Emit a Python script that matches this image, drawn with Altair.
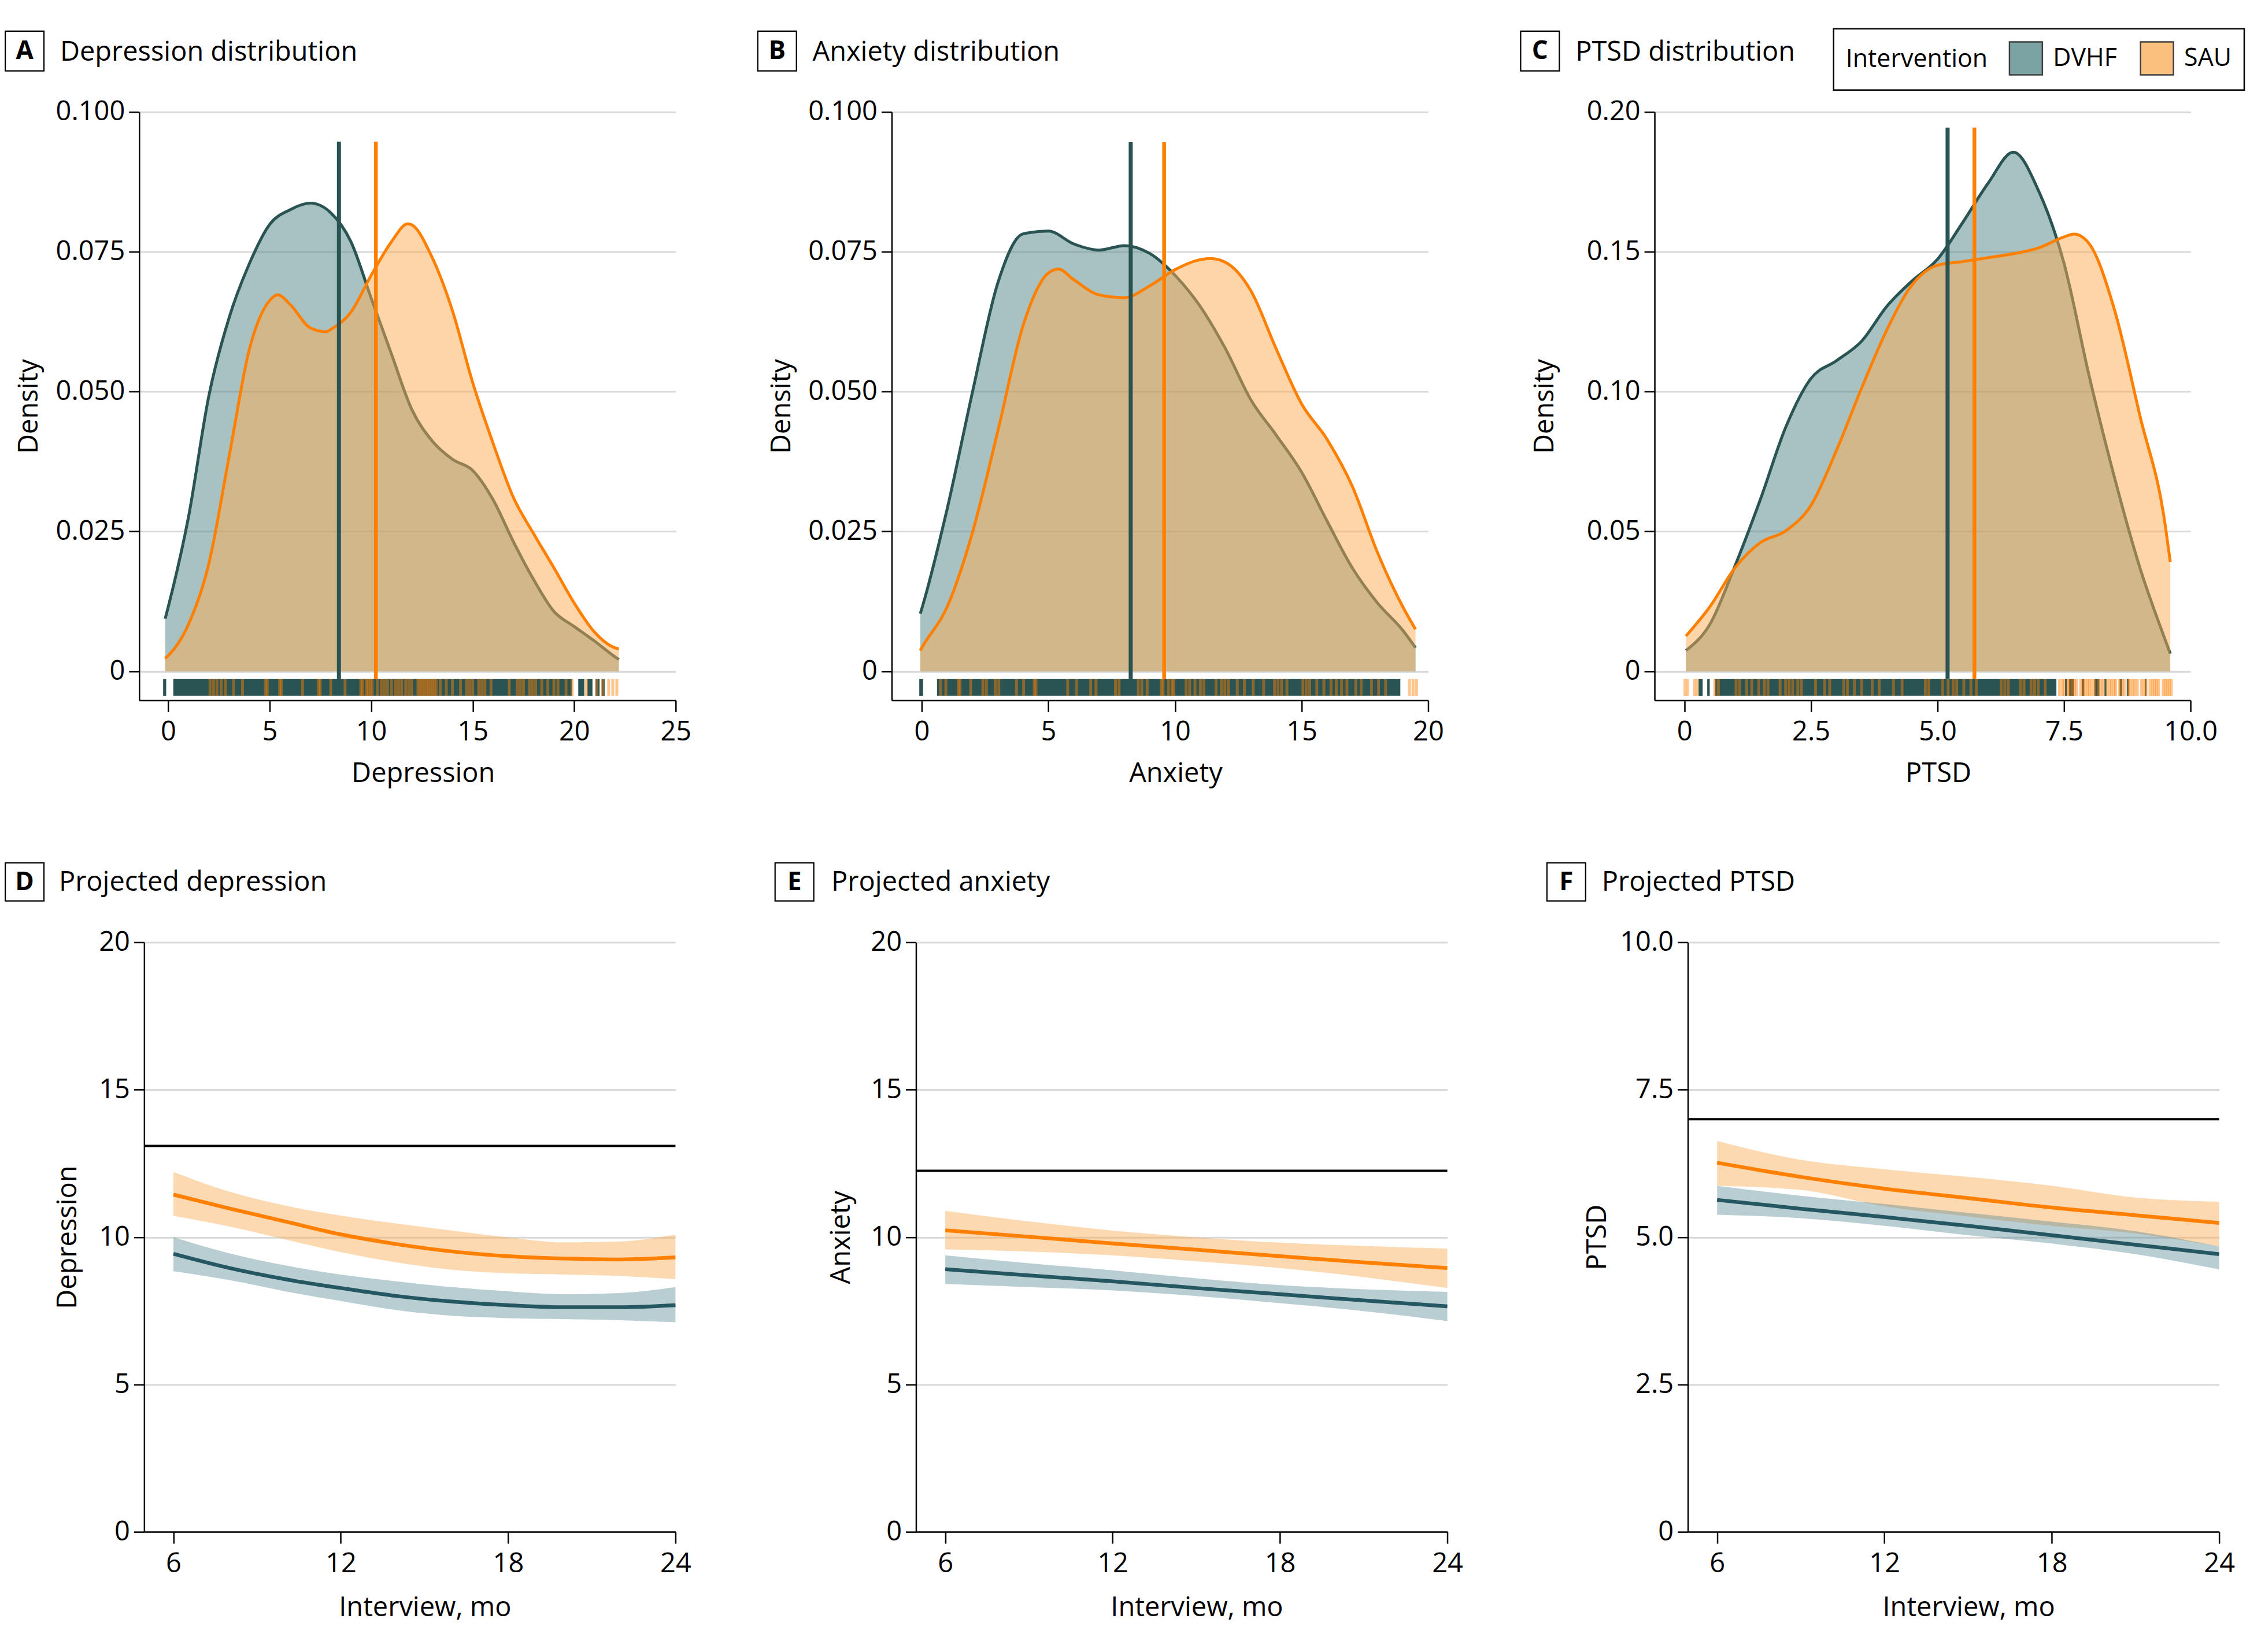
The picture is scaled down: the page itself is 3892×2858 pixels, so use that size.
import altair as alt
import pandas as pd

FONT = "Open Sans"
TEAL = "#2a5453"
ORANGE = "#ff7f00"
TEAL_FILL = "#518585"
ORANGE_FILL = "#fbab53"
BAND_TEAL = "#4f8592"
BAND_ORANGE = "#fbab53"
LINE_TEAL = "#245761"
GRID = "#d9d9d9"
GROUPS = ["DVHF", "SAU"]

# ---------------- Panel A: depression density ----------------
dep_x_dvhf = [-0.15, 0, 1, 2, 3, 4, 5, 6, 7, 8, 9, 10, 11, 12, 13, 14, 15, 16, 17, 18, 19, 20, 21, 22, 22.2]
dep_d_dvhf = [0.0094, 0.0115, 0.0276, 0.0492, 0.0632, 0.0729, 0.0799, 0.0825, 0.0837, 0.0820, 0.0768, 0.0667,
              0.0567, 0.0468, 0.0412, 0.0379, 0.0359, 0.0307, 0.0232, 0.0164, 0.0107, 0.0080, 0.0054, 0.0026, 0.0021]
dep_x_sau = [-0.15, 0, 1, 2, 3, 4, 5, 5.4, 6, 7, 7.8, 8, 9, 10, 11, 11.8, 12, 13, 14, 15, 16, 17, 18, 19, 20, 21, 22, 22.2]
dep_d_sau = [0.0023, 0.0028, 0.0084, 0.0192, 0.0384, 0.0576, 0.0663, 0.0673, 0.0656, 0.0614, 0.0607, 0.0611, 0.0642,
             0.0708, 0.0768, 0.0800, 0.0798, 0.0740, 0.0645, 0.0516, 0.0408, 0.0311, 0.0246, 0.0185, 0.0122, 0.0070,
             0.0042, 0.0040]
dep_means = [8.41, 10.23]
dep_mean_top = [0.0947, 0.0947]
dep_rug_dvhf_lo = [-0.25, 0.25, 20.2, 20.65, 21.05, 21.35]
dep_rug_dvhf_hi = [-0.1, 19.9, 20.5, 20.9, 21.25, 21.5]
dep_rug_sau = [2.06, 2.23, 2.4, 2.61, 2.82, 3.22, 3.66, 4.79, 4.88, 5.49, 5.57, 6.62, 7.4, 7.49, 8.01, 8.71, 9.49,
               9.58, 9.76, 9.85, 9.95, 10.05, 10.3, 10.5, 10.65, 10.8, 11.0, 11.2, 11.35, 11.5, 11.7, 11.85, 12.0,
               12.3, 12.4, 12.5, 12.6, 12.7, 12.8, 12.9, 13.0, 13.1, 13.2, 13.4, 13.7, 14.0, 14.4, 14.7, 14.85, 15.0,
               15.3, 15.45, 15.6, 15.9, 16.8, 17.2, 17.35, 17.5, 17.8, 17.95, 18.1, 18.4, 18.7, 19.0, 19.2, 19.6,
               19.9, 20.6, 21.1, 21.4, 21.7, 21.9, 22.1]

# ---------------- Panel B: anxiety density ----------------
anx_x_dvhf = [-0.06, 0, 1, 2, 3, 4, 5, 6, 7, 8, 9, 10, 11, 12, 13, 14, 15, 16, 17, 18, 19, 19.5]
anx_d_dvhf = [0.0103, 0.0112, 0.0290, 0.0499, 0.0694, 0.0782, 0.0787, 0.0764, 0.0753, 0.0761, 0.0747, 0.0708,
              0.0652, 0.0576, 0.0485, 0.0422, 0.0356, 0.0269, 0.0185, 0.0122, 0.0073, 0.0042]
anx_x_sau = [-0.06, 0, 1, 2, 3, 4, 5, 5.4, 6, 7, 8, 9, 10, 11, 11.4, 12, 13, 14, 15, 16, 17, 18, 19, 19.5]
anx_d_sau = [0.0037, 0.0042, 0.0115, 0.0248, 0.0429, 0.0618, 0.0712, 0.0719, 0.0700, 0.0673, 0.0668, 0.0689,
             0.0718, 0.0736, 0.0738, 0.0731, 0.0680, 0.0576, 0.0478, 0.0415, 0.0331, 0.0212, 0.0115, 0.0075]
anx_means = [8.25, 9.57]
anx_mean_top = [0.0946, 0.0946]
anx_rug_dvhf_lo = [-0.1, 0.6]
anx_rug_dvhf_hi = [0.05, 18.9]
anx_rug_sau = [0.74, 0.95, 1.44, 1.51, 1.93, 2.41, 2.55, 2.9, 3.04, 3.74, 4.02, 4.44, 4.51, 5.76, 6.11, 6.67, 6.88,
               7.65, 7.79, 8.55, 8.69, 8.9, 9.46, 9.53, 9.74, 9.88, 9.95, 10.44, 10.58, 10.79, 11.0, 11.14, 11.62,
               11.83, 11.97, 12.11, 12.46, 12.74, 13.09, 13.5, 13.93, 14.07, 14.21, 14.42, 15.05, 15.18, 15.32, 15.6,
               15.88, 16.16, 16.37, 16.58, 16.79, 17.14, 17.35, 17.76, 18.04, 18.32, 19.26, 19.4, 19.54]

# ---------------- Panel C: PTSD density ----------------
ptsd_x_dvhf = [0.03, 0.5, 1.0, 1.5, 2.0, 2.5, 3.0, 3.5, 4.0, 4.5, 5.0, 5.5, 6.0, 6.5, 7.0, 7.5, 8.0, 8.5, 9.0, 9.5, 9.6]
ptsd_d_dvhf = [0.0074, 0.0167, 0.0377, 0.0614, 0.0872, 0.1047, 0.1110, 0.1180, 0.1305, 0.1396, 0.1473, 0.1605,
               0.1745, 0.1856, 0.1717, 0.1459, 0.1054, 0.0691, 0.0370, 0.0112, 0.0063]
ptsd_x_sau = [0.03, 0.5, 1.0, 1.5, 2.0, 2.5, 3.0, 3.5, 4.0, 4.5, 5.0, 5.5, 6.0, 6.5, 7.0, 7.5, 7.7, 8.0, 8.5, 9.0,
              9.5, 9.6]
ptsd_d_sau = [0.0126, 0.0230, 0.0370, 0.0460, 0.0502, 0.0593, 0.0788, 0.1012, 0.1221, 0.1382, 0.1452, 0.1465,
              0.1479, 0.1493, 0.1514, 0.1553, 0.1563, 0.1528, 0.1291, 0.0914, 0.0523, 0.0391]
ptsd_means = [5.20, 5.73]
ptsd_mean_top = [0.1944, 0.1944]
ptsd_rug_dvhf_lo = [0.28, 0.45, 0.6, 7.52, 7.6, 7.85, 8.1, 8.3, 8.6, 8.74, 9.1]
ptsd_rug_dvhf_hi = [0.36, 0.5, 7.35, 7.56, 7.7, 7.9, 8.2, 8.34, 8.65, 8.78, 9.13]
ptsd_rug_sau = [0.01, 0.06, 0.2, 0.25, 0.6, 0.67, 1.02, 1.09, 1.23, 1.33, 1.47, 1.58, 1.65, 1.89, 2.0, 2.07, 2.14,
                2.24, 2.31, 2.59, 2.77, 2.87, 3.15, 3.22, 3.36, 3.5, 3.71, 3.85, 4.13, 4.3, 4.76, 4.83, 5.1, 5.21,
                5.31, 5.38, 5.52, 5.66, 5.77, 6.26, 6.33, 6.4, 6.64, 6.71, 6.85, 6.92, 6.99, 7.13, 7.41, 7.47, 7.5,
                7.58, 7.6, 7.66, 7.71, 7.75, 7.83, 7.88, 7.92, 7.97, 8.0, 8.05, 8.1, 8.18, 8.23, 8.27, 8.35, 8.4,
                8.44, 8.49, 8.52, 8.6, 8.65, 8.69, 8.78, 8.81, 8.86, 8.9, 8.95, 9.03, 9.08, 9.12, 9.2, 9.25, 9.29,
                9.33, 9.37, 9.46, 9.5, 9.54, 9.58, 9.62]

# ---------------- Panel D: projected depression ----------------
d_months = [6, 8, 10, 12, 14, 16, 18, 20, 22, 24]
d_sau = [11.44, 10.97, 10.53, 10.09, 9.76, 9.51, 9.35, 9.27, 9.24, 9.31]
d_sau_hi = [12.21, 11.54, 11.07, 10.73, 10.46, 10.22, 9.99, 9.82, 9.85, 10.08]
d_sau_lo = [10.72, 10.36, 9.92, 9.49, 9.14, 8.89, 8.77, 8.73, 8.68, 8.57]
d_dv = [9.43, 8.95, 8.57, 8.27, 8.0, 7.81, 7.69, 7.62, 7.62, 7.69]
d_dv_hi = [10.0, 9.45, 9.04, 8.73, 8.5, 8.3, 8.16, 8.06, 8.1, 8.3]
d_dv_lo = [8.84, 8.54, 8.16, 7.83, 7.52, 7.33, 7.25, 7.22, 7.18, 7.11]
d_ref = [13.09]

# ---------------- Panel E: projected anxiety ----------------
e_months = [6, 9, 12, 15, 18, 21, 24]
e_sau = [10.23, 10.01, 9.78, 9.57, 9.35, 9.14, 8.95]
e_sau_hi = [10.89, 10.53, 10.22, 9.99, 9.81, 9.7, 9.61]
e_sau_lo = [9.58, 9.51, 9.38, 9.18, 8.95, 8.64, 8.27]
e_dv = [8.91, 8.7, 8.5, 8.27, 8.06, 7.85, 7.65]
e_dv_hi = [9.38, 9.11, 8.87, 8.6, 8.37, 8.23, 8.14]
e_dv_lo = [8.41, 8.3, 8.19, 8.0, 7.76, 7.49, 7.15]
e_ref = [12.25]

# ---------------- Panel F: projected PTSD ----------------
f_months = [6, 9, 12, 15, 18, 21, 24]
f_sau = [6.26, 6.02, 5.82, 5.66, 5.5, 5.37, 5.24]
f_sau_hi = [6.63, 6.31, 6.15, 6.02, 5.87, 5.67, 5.6]
f_sau_lo = [5.87, 5.8, 5.52, 5.35, 5.19, 5.06, 4.84]
f_dv = [5.63, 5.48, 5.34, 5.19, 5.03, 4.87, 4.71]
f_dv_hi = [5.87, 5.7, 5.56, 5.41, 5.26, 5.1, 4.84]
f_dv_lo = [5.38, 5.32, 5.19, 5.03, 4.89, 4.71, 4.45]
f_ref = [7.0]

FS = 47

color_scale = alt.Scale(domain=GROUPS, range=[TEAL_FILL, ORANGE_FILL])

LEGEND = alt.Legend(
    title="Intervention", orient="none", legendX=2934, legendY=-144, direction="horizontal",
    titleOrient="left", titleAnchor="middle", titleBaseline="middle", titleLimit=600, labelLimit=300,
    symbolType="square", symbolSize=3249, symbolStrokeColor="black", symbolStrokeWidth=2.5,
    symbolOpacity=0.75, labelFontSize=43, titleFontSize=43, titleFontWeight="normal",
    labelFont=FONT, titleFont=FONT, labelColor="black", titleColor="black",
    strokeColor="black", padding=21, labelOffset=17, columnPadding=35, titlePadding=36)


def label_layers(letter, title, box, text_x, text_y):
    bx0, bx1, by0, by1 = box
    rect = alt.Chart(pd.DataFrame({"t": [letter]})).mark_rect(
        fill="white", stroke="black", strokeWidth=2.2
    ).encode(x=alt.value(bx0), x2=alt.value(bx1), y=alt.value(by0), y2=alt.value(by1))
    let = alt.Chart(pd.DataFrame({"t": [letter]})).mark_text(
        font=FONT, fontSize=44, fontWeight="bold", align="center", baseline="middle", color="black"
    ).encode(text="t:N", x=alt.value((bx0 + bx1) / 2), y=alt.value((by0 + by1) / 2 + 1))
    ttl = alt.Chart(pd.DataFrame({"t": [title]})).mark_text(
        font=FONT, fontSize=FS, align="left", baseline="middle", color="black"
    ).encode(text="t:N", x=alt.value(text_x), y=alt.value(text_y))
    return [rect, let, ttl]


def density_panel(letter, title, xtitle, xd, yd, xs, ys, means, mtop, seg_lo, seg_hi, sau_ticks,
                  xdom, xvals, xfmt, ydom, yvals, yfmt, rug_top, rug_bot, width, height):
    xscale = alt.Scale(domain=xdom, nice=False, zero=False)
    yscale = alt.Scale(domain=ydom, nice=False, zero=False)
    xk = dict(values=xvals, title=xtitle, titleX=width / 2 + 27, titleY=127, titleBaseline="middle",
              titleAlign="center", grid=False, tickSize=20, labelPadding=12)
    if xfmt:
        xk["labelExpr"] = xfmt
    yk = dict(values=yvals, labelExpr=yfmt, title="Density", titleX=-190, titleY=height / 2, titleAngle=270,
              titleBaseline="middle", titleAlign="center", grid=True, tickSize=18, labelPadding=7)
    xaxis = alt.Axis(**xk)
    yaxis = alt.Axis(**yk)

    def X(field="x"):
        return alt.X(f"{field}:Q", scale=xscale, axis=xaxis)

    def Y(field="y"):
        return alt.Y(f"{field}:Q", scale=yscale, axis=yaxis)

    df_d = pd.DataFrame({"x": xd, "y": yd, "g": "DVHF"})
    df_s = pd.DataFrame({"x": xs, "y": ys, "g": "SAU"})
    col = alt.Color("g:N", scale=color_scale, legend=LEGEND)

    area_d = alt.Chart(df_d).mark_area(opacity=0.5, interpolate="monotone").encode(
        x=X(), y=Y(), y2=alt.Y2Datum(0), color=col)
    line_d = alt.Chart(df_d).mark_line(interpolate="monotone", strokeWidth=5, color=TEAL).encode(x=X(), y=Y())
    area_s = alt.Chart(df_s).mark_area(opacity=0.5, interpolate="monotone").encode(
        x=X(), y=Y(), y2=alt.Y2Datum(0), color=col)
    line_s = alt.Chart(df_s).mark_line(interpolate="monotone", strokeWidth=5, color=ORANGE).encode(x=X(), y=Y())

    rug_d = alt.Chart(pd.DataFrame({"x": seg_lo, "x2": seg_hi})).mark_rect(color=TEAL).encode(
        x=X(), x2=alt.X2("x2:Q"), y=alt.YDatum(rug_top, scale=yscale, axis=yaxis), y2=alt.Y2Datum(rug_bot))
    rug_s = alt.Chart(pd.DataFrame({"x": sau_ticks})).mark_rule(color=ORANGE, opacity=0.45, strokeWidth=5).encode(
        x=X(), y=alt.YDatum(rug_top, scale=yscale, axis=yaxis), y2=alt.Y2Datum(rug_bot))
    mean_d = alt.Chart(pd.DataFrame({"x": means[:1], "top": mtop[:1]})).mark_rule(
        strokeWidth=7, color=TEAL).encode(x=X(), y=Y("top"), y2=alt.Y2Datum(rug_top))
    mean_s = alt.Chart(pd.DataFrame({"x": means[1:], "top": mtop[1:]})).mark_rule(
        strokeWidth=6.5, color=ORANGE).encode(x=X(), y=Y("top"), y2=alt.Y2Datum(rug_top))

    labs = label_layers(letter, title, (-231.9, -164.9, -140, -71), -137, -102.6)
    return alt.layer(area_d, line_d, area_s, line_s, rug_d, rug_s, mean_d, mean_s, *labs).properties(
        width=width, height=height)


def proj_panel(letter, title, ytitle, months, s_mid, s_lo, s_hi, d_mid, d_lo, d_hi, ref,
               ydom, yvals, yfmt, ytx, box, text_x, width, height):
    xscale = alt.Scale(domain=[4.95, 24], nice=False, zero=False)
    yscale = alt.Scale(domain=ydom, nice=False, zero=False)
    xaxis = alt.Axis(values=[6, 12, 18, 24], title="Interview, mo", titleX=width / 2 + 26, titleY=132,
                     titleBaseline="middle", titleAlign="center", grid=False, tickSize=20, labelPadding=12)
    yk = dict(values=yvals, title=ytitle, titleX=ytx, titleY=height / 2, titleAngle=270,
              titleBaseline="middle", titleAlign="center", grid=True, tickSize=18, labelPadding=7)
    if yfmt:
        yk["labelExpr"] = yfmt
    yaxis = alt.Axis(**yk)

    df = pd.DataFrame({"m": months, "s": s_mid, "slo": s_lo, "shi": s_hi, "d": d_mid, "dlo": d_lo, "dhi": d_hi})

    def X():
        return alt.X("m:Q", scale=xscale, axis=xaxis)

    def Y(field):
        return alt.Y(f"{field}:Q", scale=yscale, axis=yaxis)

    band_s = alt.Chart(df).mark_area(color=BAND_ORANGE, opacity=0.45, interpolate="monotone").encode(
        x=X(), y=Y("slo"), y2=alt.Y2("shi:Q"))
    band_d = alt.Chart(df).mark_area(color=BAND_TEAL, opacity=0.4, interpolate="monotone").encode(
        x=X(), y=Y("dlo"), y2=alt.Y2("dhi:Q"))
    refl = alt.Chart(pd.DataFrame({"r": ref})).mark_rule(color="black", strokeWidth=4).encode(y=Y("r"))
    line_s = alt.Chart(df).mark_line(color=ORANGE, strokeWidth=6.5, interpolate="monotone").encode(x=X(), y=Y("s"))
    line_d = alt.Chart(df).mark_line(color=LINE_TEAL, strokeWidth=6.5, interpolate="monotone").encode(x=X(), y=Y("d"))
    labs = label_layers(letter, title, box, text_x, -103.6)
    return alt.layer(band_s, band_d, refl, line_s, line_d, *labs).properties(width=width, height=height)


A = density_panel("A", "Depression distribution", "Depression", dep_x_dvhf, dep_d_dvhf, dep_x_sau, dep_d_sau,
                  dep_means, dep_mean_top, dep_rug_dvhf_lo, dep_rug_dvhf_hi, dep_rug_sau,
                  [-1.43, 25], [0, 5, 10, 15, 20, 25], None, [-0.0052, 0.1], [0, 0.025, 0.05, 0.075, 0.1],
                  "datum.value == 0 ? '0' : format(datum.value, '.3f')", -0.0014, -0.0044, 929, 1019)
B = density_panel("B", "Anxiety distribution", "Anxiety", anx_x_dvhf, anx_d_dvhf, anx_x_sau, anx_d_sau,
                  anx_means, anx_mean_top, anx_rug_dvhf_lo, anx_rug_dvhf_hi, anx_rug_sau,
                  [-1.19, 20], [0, 5, 10, 15, 20], None, [-0.0052, 0.1], [0, 0.025, 0.05, 0.075, 0.1],
                  "datum.value == 0 ? '0' : format(datum.value, '.3f')", -0.0014, -0.0044, 929, 1019)
C = density_panel("C", "PTSD distribution", "PTSD", ptsd_x_dvhf, ptsd_d_dvhf, ptsd_x_sau, ptsd_d_sau,
                  ptsd_means, ptsd_mean_top, ptsd_rug_dvhf_lo, ptsd_rug_dvhf_hi, ptsd_rug_sau,
                  [-0.59, 10], [0, 2.5, 5, 7.5, 10], "datum.value == 0 ? '0' : format(datum.value, '.1f')",
                  [-0.0104, 0.2], [0, 0.05, 0.1, 0.15, 0.2],
                  "datum.value == 0 ? '0' : format(datum.value, '.2f')", -0.0028, -0.0088, 928, 1019)

D = proj_panel("D", "Projected depression", "Depression", d_months, d_sau, d_sau_lo, d_sau_hi, d_dv, d_dv_lo,
               d_dv_hi, d_ref, [0, 20], [0, 5, 10, 15, 20], None, -132, (-240.5, -173.5, -137.6, -71.6), -147.6,
               920, 1021)
E = proj_panel("E", "Projected anxiety", "Anxiety", e_months, e_sau, e_sau_lo, e_sau_hi, e_dv, e_dv_lo,
               e_dv_hi, e_ref, [0, 20], [0, 5, 10, 15, 20], None, -129.5, (-244, -177, -137.6, -71.6), -146.5,
               920, 1021)
F = proj_panel("F", "Projected PTSD", "PTSD", f_months, f_sau, f_sau_lo, f_sau_hi, f_dv, f_dv_lo,
               f_dv_hi, f_ref, [0, 10], [0, 2.5, 5, 7.5, 10],
               "datum.value == 0 ? '0' : format(datum.value, '.1f')", -156, (-244, -177, -137.6, -71.6), -149,
               920, 1021)

spacer = alt.Chart(pd.DataFrame({"v": [0]})).mark_point(opacity=0, size=1).encode(
    x=alt.value(0), y=alt.value(0)).properties(width=1, height=1)

top = alt.hconcat(A, alt.hconcat(B, C, spacing=392, bounds="flush"), spacing=374, bounds="flush")
bottom = alt.hconcat(spacer, alt.hconcat(D, E, F, spacing=416.5, bounds="flush"), spacing=7.6, bounds="flush")

chart = alt.vconcat(top, bottom, spacing=130, bounds="full").resolve_scale(color="shared").properties(
    padding={"left": 0, "top": 38.4, "right": 0, "bottom": 5}
).configure(font=FONT).configure_view(strokeWidth=0).configure_axis(
    labelFont=FONT, titleFont=FONT, labelFontSize=FS, titleFontSize=FS, titleFontWeight="normal",
    labelColor="black", titleColor="black", domainColor="black", domainWidth=2.5,
    tickColor="black", tickWidth=2.5, gridColor=GRID, gridWidth=3, labelFlush=False, labelOverlap=False
).configure_legend(strokeWidth=2.5)

chart.save("out.html", embed_options={"renderer": "svg", "actions": False})
